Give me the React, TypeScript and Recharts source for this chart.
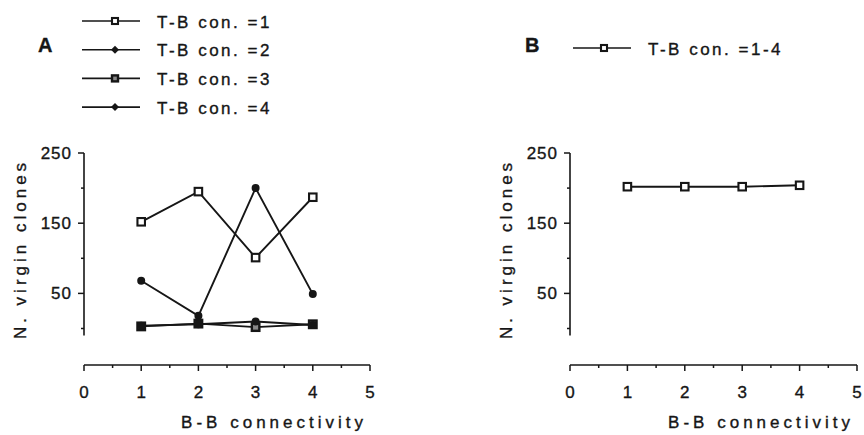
import { LineChart, Line, XAxis, YAxis, Legend, ReferenceLine } from 'recharts';

// B-B connectivity values (x positions of the points)
const connectivity = [1, 2, 3, 4];

// panel A: N. virgin clones for each T-B connectivity
const tbCon1 = [152, 195, 101, 187];
const tbCon2 = [68, 18, 200, 49];
const tbCon3 = [3, 7, 2, 6];
const tbCon4 = [4, 6, 10, 5];

// panel B: T-B connectivity 1-4 pooled
const tbConAll = [202, 202, 202, 204];

const xTicks = [0, 0.5, 1, 1.5, 2, 2.5, 3, 3.5, 4, 4.5, 5];
const xLabelTicks = [0, 1, 2, 3, 4, 5];
const yTicks = [0, 50, 100, 150, 200, 250];
const yLabelTicks = [50, 150, 250];

const dataA = connectivity.map((x, i) => ({
    x,
    con1: tbCon1[i],
    con2: tbCon2[i],
    con3: tbCon3[i],
    con4: tbCon4[i],
}));
const dataB = connectivity.map((x, i) => ({ x, all: tbConAll[i] }));

const FONT = '"Liberation Sans", Arial, Helvetica, sans-serif';
const INK = '#161616';
// scanned text looks a bit heavier than a plain regular weight
const textInk = { fill: INK, stroke: INK, strokeWidth: 0.35, fontFamily: FONT };

const shapeOf: Record<string, string> = {
    con1: 'open',
    con2: 'dot',
    con3: 'heavy',
    con4: 'dot',
    all: 'open',
};

const Marker = ({ shape, cx, cy, small }: any) => {
    if (cx == null || cy == null) return null;
    const s = small ? 6 : 7.5;
    if (shape === 'dot') {
        if (small) {
            const h = 4;
            return (
                <polygon
                    points={`${cx},${cy - h} ${cx + h},${cy} ${cx},${cy + h} ${cx - h},${cy}`}
                    fill={INK}
                />
            );
        }
        return <circle cx={cx} cy={cy} r={4} fill={INK} />;
    }
    return (
        <rect
            x={cx - s / 2}
            y={cy - s / 2}
            width={s}
            height={s}
            fill={shape === 'heavy' ? '#888' : '#fff'}
            stroke={INK}
            strokeWidth={shape === 'heavy' ? 2.4 : 2.1}
        />
    );
};

const dotFor = (key: string) => (props: any) => (
    <Marker key={`${key}-${props.index}`} shape={shapeOf[key]} cx={props.cx} cy={props.cy} />
);

const XTick = ({ x, y, payload }: any) => {
    const major = xLabelTicks.includes(payload.value);
    return (
        <g>
            <line x1={x} x2={x} y1={y} y2={y + (major ? 6 : 3)} stroke={INK} strokeWidth={1.5} />
            {major && (
                <text x={x} y={y + 33} textAnchor="middle" fontSize={17} {...textInk}>
                    {payload.value}
                </text>
            )}
        </g>
    );
};

const YTick = ({ x, y, payload }: any) => {
    const major = yLabelTicks.includes(payload.value);
    return (
        <g>
            <line x1={x} x2={x - (major ? 6 : 3)} y1={y} y2={y} stroke={INK} strokeWidth={1.5} />
            {major && (
                <text x={x - 12} y={y + 6} textAnchor="end" fontSize={17} letterSpacing={1} {...textInk}>
                    {payload.value}
                </text>
            )}
        </g>
    );
};

const xLabel = (props: any) => {
    const { viewBox } = props;
    return (
        <text
            x={viewBox.x + viewBox.width - 3}
            y={viewBox.y + 63}
            textAnchor="end"
            fontSize={17}
            letterSpacing={4}
            {...textInk}
        >
            B-B connectivity
        </text>
    );
};

const yLabel = (props: any) => {
    const { viewBox } = props;
    const cx = viewBox.x + viewBox.width - 64;
    const cy = 249;
    return (
        <text
            x={cx}
            y={cy}
            transform={`rotate(-90, ${cx}, ${cy})`}
            textAnchor="middle"
            dominantBaseline="central"
            fontSize={17}
            letterSpacing={4}
            {...textInk}
        >
            N. virgin clones
        </text>
    );
};

const makeLegend = (panel: string, rows: { top: number; step: number; lineX: number; markX: number; textX: number; panelX: number }) =>
    ({ payload }: any) => (
        <svg width={420} height={125} style={{ display: 'block' }}>
            <text x={rows.panelX} y={52} fontSize={20} fontWeight="bold" {...textInk}>
                {panel}
            </text>
            {(payload || []).map((p: any, i: number) => {
                const y = rows.top + i * rows.step;
                return (
                    <g key={p.dataKey}>
                        <line x1={rows.lineX} x2={rows.lineX + 58} y1={y} y2={y} stroke={INK} strokeWidth={1.6} />
                        <Marker shape={shapeOf[p.dataKey]} cx={rows.markX} cy={y} small />
                        <text x={rows.textX} y={y + 6.5} fontSize={17} letterSpacing={2.5} {...textInk}>
                            {p.value}
                        </text>
                    </g>
                );
            })}
        </svg>
    );

const LegendA = makeLegend('A', { top: 21, step: 28.7, lineX: 82, markX: 115, textX: 157, panelX: 38 });
const LegendB = makeLegend('B', { top: 48, step: 28.7, lineX: 141, markX: 172, textX: 216, panelX: 93 });

export default function App() {
    const yDomain = [-52, 250];
    return (
        <div style={{ position: 'absolute', left: 0, top: 0, width: 864, height: 435, display: 'flex', background: '#fff', fontFamily: FONT }}>
            {/* Panel A */}
            <LineChart width={432} height={435} data={dataA} margin={{ top: 153, right: 62, bottom: 30, left: 24 }}>
                <XAxis
                    dataKey="x"
                    type="number"
                    domain={[0, 5]}
                    ticks={xTicks}
                    interval={0}
                    allowDataOverflow
                    height={40}
                    tickSize={0}
                    tickMargin={0}
                    tickLine={false}
                    axisLine={{ stroke: INK, strokeWidth: 1.6 }}
                    tick={<XTick />}
                    label={xLabel}
                />
                <YAxis
                    type="number"
                    domain={yDomain}
                    ticks={yTicks}
                    interval={0}
                    allowDataOverflow
                    width={60}
                    tickSize={0}
                    tickMargin={0}
                    tickLine={false}
                    axisLine={false}
                    tick={<YTick />}
                    label={yLabel}
                />
                <ReferenceLine segment={[{ x: 0, y: -10 }, { x: 0, y: 250 }]} stroke={INK} strokeWidth={1.6} />
                <Legend
                    layout="vertical"
                    align="center"
                    verticalAlign="middle"
                    wrapperStyle={{ top: 0, left: 0, width: 420 }}
                    content={LegendA}
                />
                <Line dataKey="con1" name="T-B con. =1" stroke={INK} strokeWidth={1.9} dot={dotFor('con1')} isAnimationActive={false} />
                <Line dataKey="con2" name="T-B con. =2" stroke={INK} strokeWidth={1.9} dot={dotFor('con2')} isAnimationActive={false} />
                <Line dataKey="con3" name="T-B con. =3" stroke={INK} strokeWidth={1.9} dot={dotFor('con3')} isAnimationActive={false} />
                <Line dataKey="con4" name="T-B con. =4" stroke={INK} strokeWidth={1.9} dot={dotFor('con4')} isAnimationActive={false} />
            </LineChart>

            {/* Panel B */}
            <LineChart width={432} height={435} data={dataB} margin={{ top: 153, right: 7, bottom: 30, left: 78 }}>
                <XAxis
                    dataKey="x"
                    type="number"
                    domain={[0, 5]}
                    ticks={xTicks}
                    interval={0}
                    allowDataOverflow
                    height={40}
                    tickSize={0}
                    tickMargin={0}
                    tickLine={false}
                    axisLine={{ stroke: INK, strokeWidth: 1.6 }}
                    tick={<XTick />}
                    label={xLabel}
                />
                <YAxis
                    type="number"
                    domain={yDomain}
                    ticks={yTicks}
                    interval={0}
                    allowDataOverflow
                    width={60}
                    tickSize={0}
                    tickMargin={0}
                    tickLine={false}
                    axisLine={false}
                    tick={<YTick />}
                    label={yLabel}
                />
                <ReferenceLine segment={[{ x: 0, y: -10 }, { x: 0, y: 250 }]} stroke={INK} strokeWidth={1.6} />
                <Legend
                    layout="vertical"
                    align="center"
                    verticalAlign="middle"
                    wrapperStyle={{ top: 0, left: 0, width: 420 }}
                    content={LegendB}
                />
                <Line dataKey="all" name="T-B con. =1-4" stroke={INK} strokeWidth={1.9} dot={dotFor('all')} isAnimationActive={false} />
            </LineChart>
        </div>
    );
}
